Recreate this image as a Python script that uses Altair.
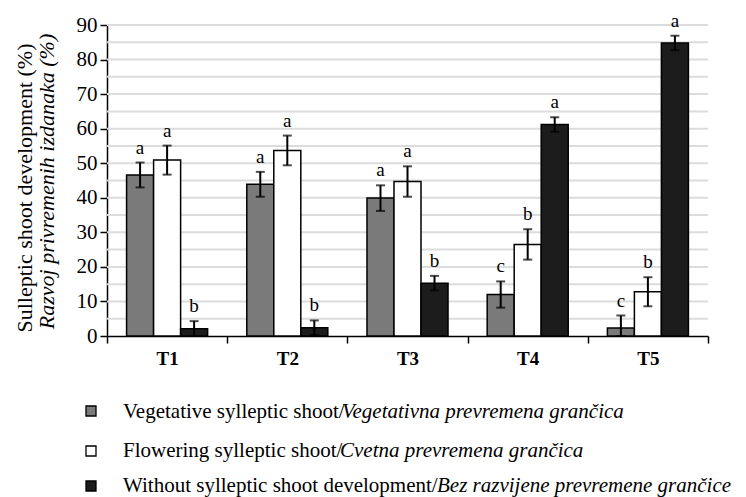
import altair as alt
import pandas as pd

categories = ["T1", "T2", "T3", "T4", "T5"]
series = ["Vegetative", "Flowering", "Without"]

veg = [46.6, 43.9, 39.9, 12.0, 2.3]
veg_err = [3.6, 3.6, 3.7, 3.8, 3.6]
flow = [50.9, 53.7, 44.7, 26.5, 12.8]
flow_err = [4.2, 4.3, 4.4, 4.4, 4.2]
without = [2.1, 2.4, 15.3, 61.2, 84.8]
without_err = [2.2, 2.1, 2.1, 2.1, 2.1]

veg_letters = ["a", "a", "a", "c", "c"]
flow_letters = ["a", "a", "a", "b", "b"]
without_letters = ["b", "b", "b", "a", "a"]

grid_values = [5, 10, 15, 20, 25, 30, 35, 40, 45, 50, 55, 60, 65, 70, 75, 80, 85, 90]
y_ticks = [0, 10, 20, 30, 40, 50, 60, 70, 80, 90]

legend_normal = ["Vegetative sylleptic shoot/", "Flowering sylleptic shoot/",
                 "Without sylleptic shoot development/"]
legend_italic = ["Vegetativna prevremena grančica", "Cvetna prevremena grančica",
                 "Bez razvijene prevremene grančice"]
colors = ["#7a7a7a", "#ffffff", "#1c1c1c"]

title_line1 = "Sulleptic shoot development (%)"
title_line2 = "Razvoj privremenih izdanaka (%)"

rows = []
for vals, errs, lets, s in [(veg, veg_err, veg_letters, series[0]),
                            (flow, flow_err, flow_letters, series[1]),
                            (without, without_err, without_letters, series[2])]:
    for c, v, e, l in zip(categories, vals, errs, lets):
        rows.append({"cat": c, "series": s, "value": v,
                     "lo": max(0.0, v - e), "hi": v + e, "letter": l})
df = pd.DataFrame(rows)

FONT = "Liberation Serif"

yscale = alt.Scale(domain=[0, 90], nice=False, zero=True)


def yaxis():
    return alt.Axis(values=y_ticks, grid=False, title=None, tickSize=7, tickColor="black",
                    tickWidth=1.5, domainColor="black", domainWidth=1.5, labelOverlap=False,
                    labelFont=FONT, labelFontSize=21, labelColor="black", labelPadding=3)


xaxis = alt.Axis(title=None, labelAngle=0, labelFont=FONT, labelFontSize=19,
                 labelFontWeight="bold", labelColor="black", tickBand="extent",
                 tickSize=7, tickColor="black", tickWidth=1.5, domainColor="black",
                 domainWidth=1.5, labelPadding=6, grid=False)

X = alt.X("cat:N", sort=categories, scale=alt.Scale(paddingInner=0, paddingOuter=0), axis=xaxis)
XO = alt.XOffset("series:N", sort=series,
                 scale=alt.Scale(domain=series, paddingOuter=0.725, paddingInner=0))

grid = alt.Chart(pd.DataFrame({"value": grid_values})).mark_rule(
    color="#dcdcdc", strokeWidth=2).encode(
    y=alt.Y("value:Q", scale=yscale, axis=yaxis()))

base = alt.Chart(df)
bars = base.mark_bar(stroke="black", strokeWidth=1.5).encode(
    x=X, xOffset=XO,
    y=alt.Y("value:Q", scale=yscale, axis=yaxis()),
    color=alt.Color("series:N", scale=alt.Scale(domain=series, range=colors), legend=None),
)
err = base.mark_rule(color="black", strokeWidth=2).encode(
    x=X, xOffset=XO, y=alt.Y("lo:Q", scale=yscale, axis=yaxis()), y2="hi:Q")
cap_hi = base.mark_tick(color="black", orient="horizontal", size=9, thickness=2).encode(
    x=X, xOffset=XO, y=alt.Y("hi:Q", scale=yscale, axis=yaxis()))
cap_lo = base.mark_tick(color="black", orient="horizontal", size=9, thickness=2).encode(
    x=X, xOffset=XO, y=alt.Y("lo:Q", scale=yscale, axis=yaxis()))
letters = base.mark_text(font=FONT, fontSize=19, baseline="alphabetic", dy=-9,
                         color="black").encode(
    x=X, xOffset=XO, y=alt.Y("hi:Q", scale=yscale, axis=yaxis()), text="letter:N")

one = pd.DataFrame({"k": [0]})
t1 = alt.Chart(one).mark_text(font=FONT, fontSize=22, angle=270, align="center",
                              baseline="middle", color="black").encode(
    x=alt.value(-82), y=alt.value(163), text=alt.value(title_line1))
t2 = alt.Chart(one).mark_text(font=FONT, fontSize=22, fontStyle="italic", angle=270,
                              align="center", baseline="middle", color="black").encode(
    x=alt.value(-60), y=alt.value(156.5), text=alt.value(title_line2))

layers = [grid, bars, err, cap_hi, cap_lo, letters, t1, t2]

sq_y = [386, 426, 461]
tx_y = [393, 432, 467]
it_x = [235, 233, 330]
for i in range(3):
    d = pd.DataFrame({"normal": [legend_normal[i]], "italic": [legend_italic[i]],
                      "col": [colors[i]]})
    c = alt.Chart(d)
    layers.append(c.mark_square(size=100, stroke="black", strokeWidth=1.3, opacity=1,
                                fill=colors[i]).encode(
        x=alt.value(-16), y=alt.value(sq_y[i])))
    layers.append(c.mark_text(font=FONT, fontSize=21, align="left", baseline="alphabetic",
                              color="black").encode(
        x=alt.value(16), y=alt.value(tx_y[i]), text="normal:N"))
    layers.append(c.mark_text(font=FONT, fontSize=21, fontStyle="italic", align="left",
                              baseline="alphabetic", color="black").encode(
        x=alt.value(it_x[i]), y=alt.value(tx_y[i]), text="italic:N"))

chart = alt.layer(*layers).properties(
    width=601, height=311,
    autosize=alt.AutoSizeParams(type="none"),
    padding={"left": 99, "top": 17, "right": 30, "bottom": 161},
    background="white",
).configure_view(stroke=None).configure_axisY(
    labelFont=FONT, labelFontSize=21, labelOverlap=False, labelColor="black"
)

chart.save("out.html", embed_options={"renderer": "svg", "actions": False})
